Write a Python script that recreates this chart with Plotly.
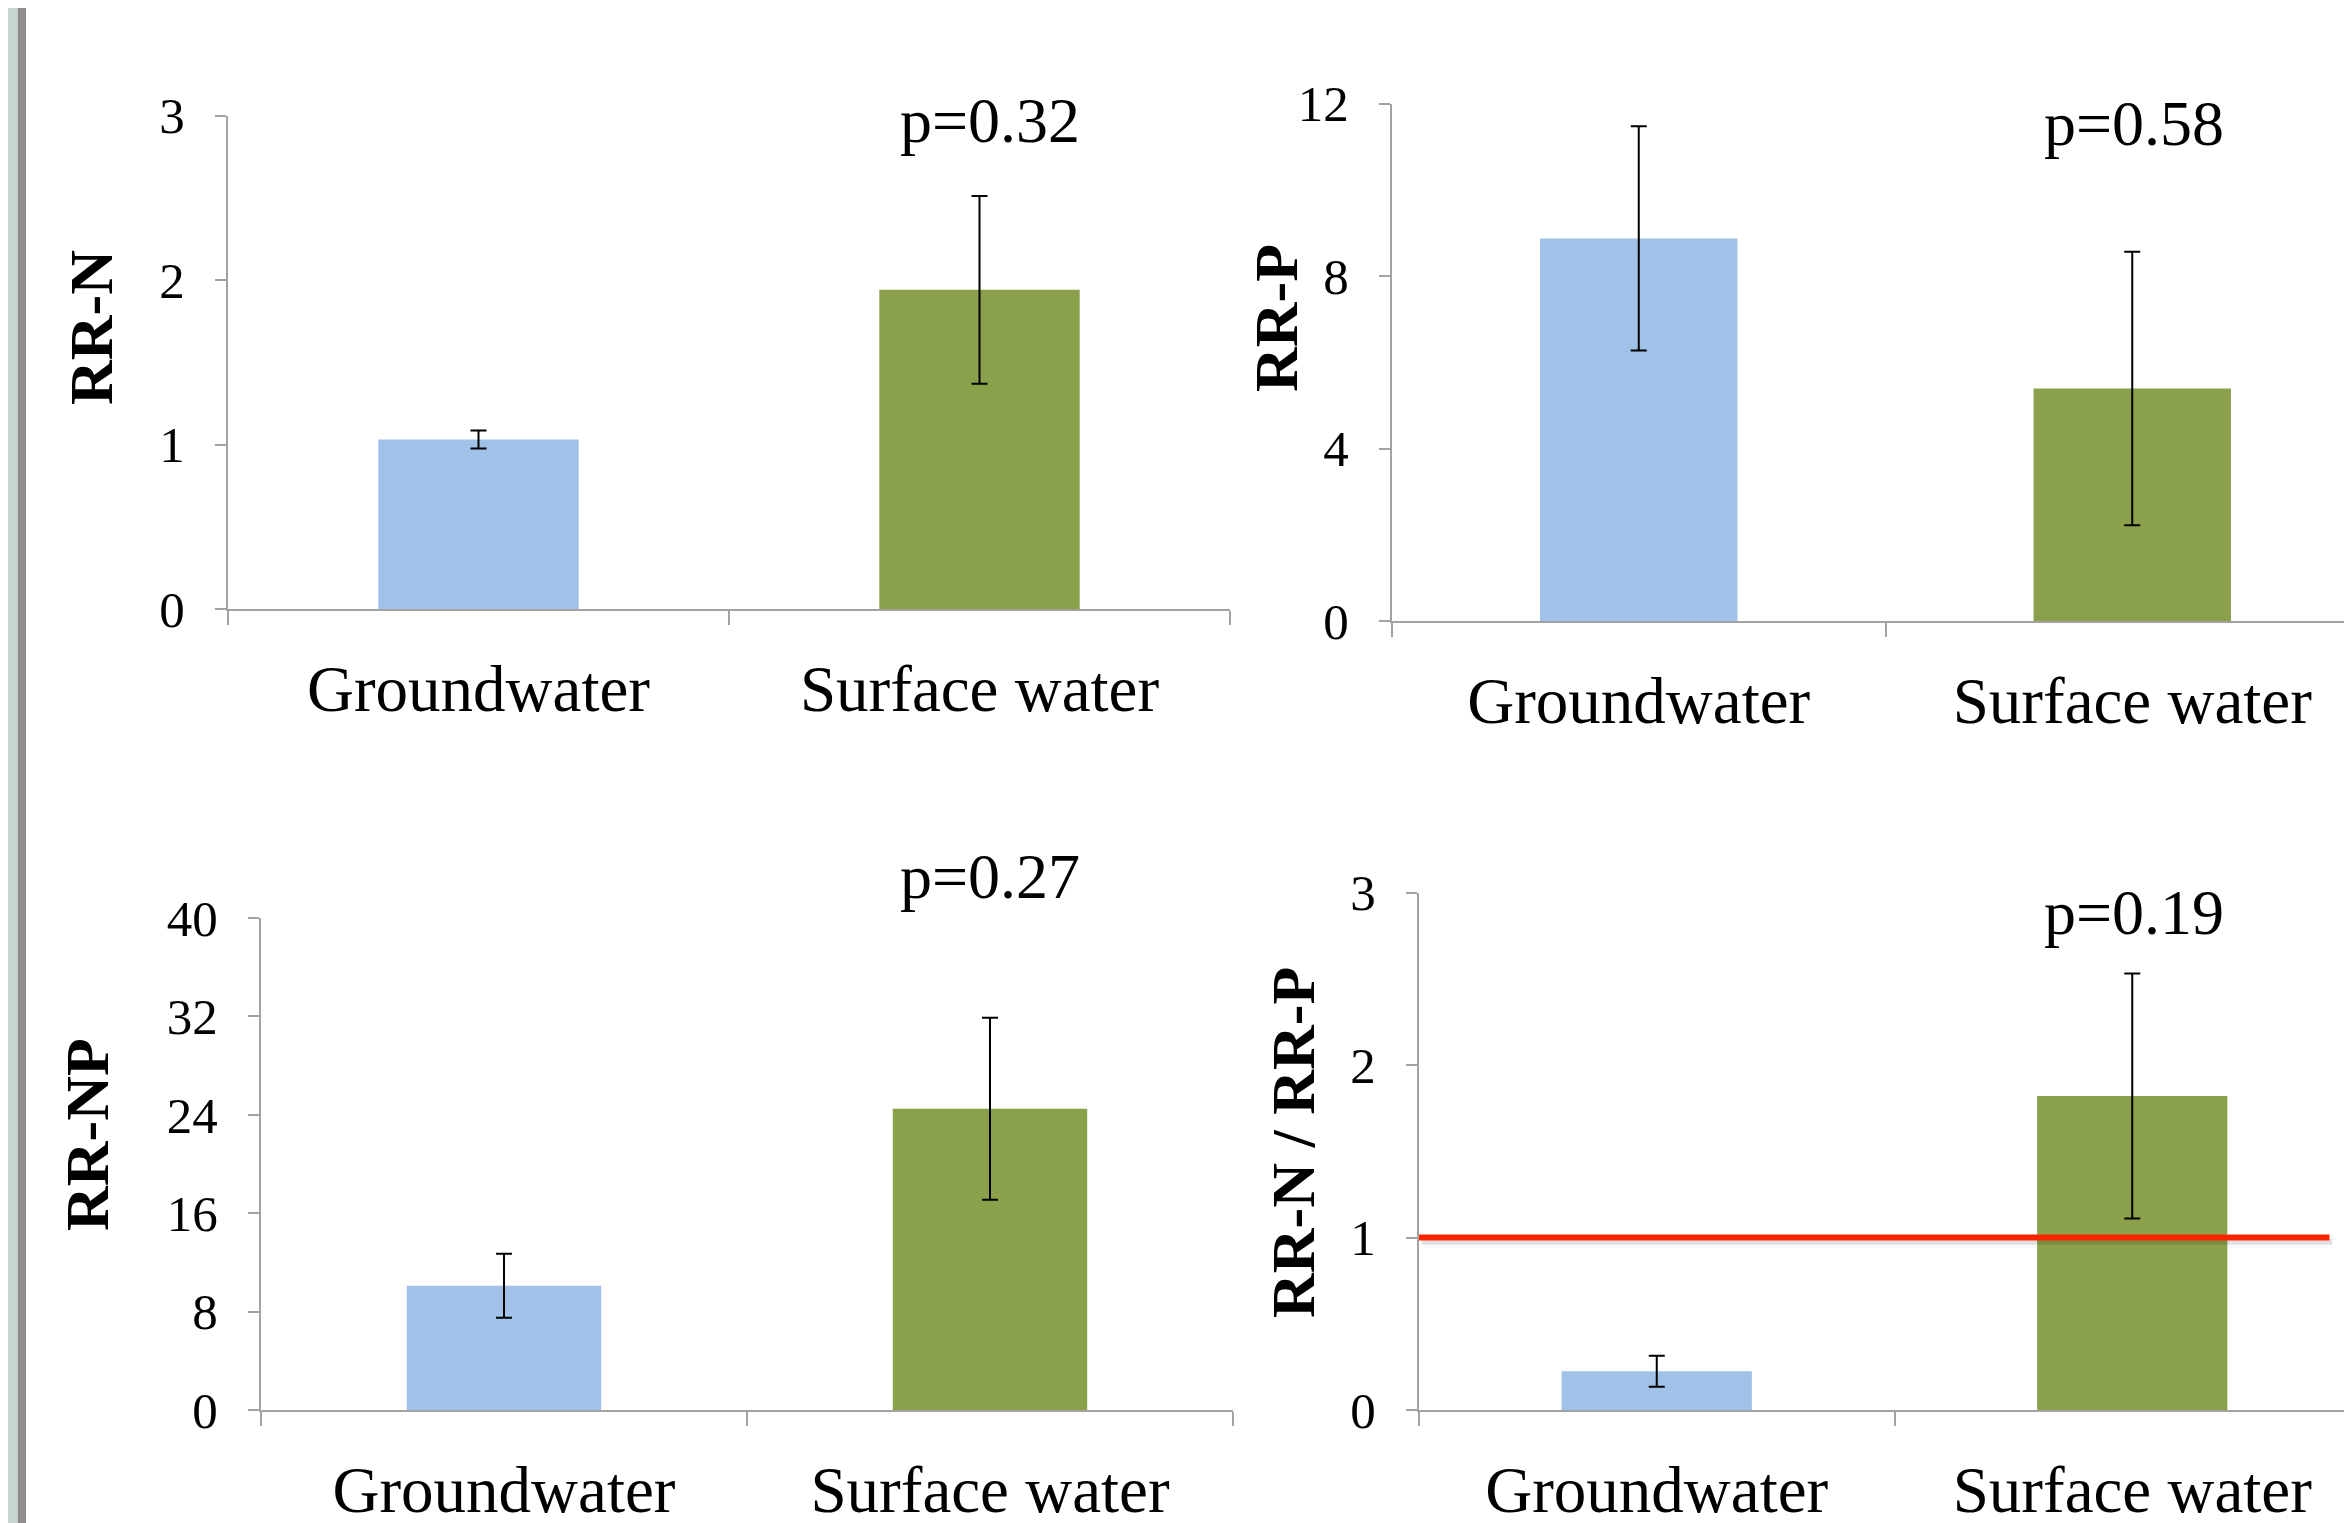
import plotly.graph_objects as go

# browser body margin compensation (page pixels -> figure pixels)
OFF = 8
PAGE_W, PAGE_H = 2352, 1523
W, H = PAGE_W - OFF, PAGE_H - OFF

# ---------------- data ----------------
CATEGORIES = ["Groundwater", "Surface water"]

RR_N = [1.03, 1.94]
RR_N_ERR = [0.055, 0.57]

RR_P = [8.87, 5.39]
RR_P_ERR = [2.6, 3.17]

RR_NP = [10.1, 24.5]
RR_NP_ERR = [2.6, 7.4]

RR_RATIO = [0.225, 1.82]
RR_RATIO_ERR = [0.09, 0.71]

P_VALUES = ["p=0.32", "p=0.58", "p=0.27", "p=0.19"]
Y_TITLES = ["RR-N", "RR-P", "RR-NP", "RR-N / RR-P"]
Y_TICKS = [[0, 1, 2, 3], [0, 4, 8, 12], [0, 8, 16, 24, 32, 40], [0, 1, 2, 3]]
Y_RANGES = [[0, 3], [0, 12], [0, 40], [0, 3]]
REF_LINE = 1  # reference line drawn in the RR-N / RR-P panel

# ---------------- styles ----------------
BAR_COLORS = ["#A0C1E8", "#8AA04A"]
AXIS_GRAY = "#A3A3A3"
SERIF = "Liberation Serif, Times New Roman, serif"

values = [RR_N, RR_P, RR_NP, RR_RATIO]
errors = [RR_N_ERR, RR_P_ERR, RR_NP_ERR, RR_RATIO_ERR]


def px(x):
    return (x - OFF) / W


def py(y):
    return 1 - (y - OFF) / H


# panel placement in page pixels: x-axis start, x-axis end (visible), category width, y of top, y of zero
panels = [
    dict(x0=228, x1=1230, cw=501, ytop=115.5, yzero=609),
    dict(x0=1392, x1=PAGE_W, cw=493.5, ytop=103.5, yzero=621),
    dict(x0=261, x1=1233, cw=486, ytop=918, yzero=1410),
    dict(x0=1419, x1=PAGE_W, cw=475.5, ytop=892.5, yzero=1410),
]

fig = go.Figure()
layout = dict(
    width=W, height=H,
    margin=dict(l=0, r=0, t=0, b=0, autoexpand=False),
    paper_bgcolor="white", plot_bgcolor="white",
    showlegend=False,
    font=dict(family=SERIF, color="black"),
)

for i, p in enumerate(panels):
    n = "" if i == 0 else str(i + 1)
    xa, ya = "x" + n, "y" + n
    fig.add_trace(go.Bar(
        x=CATEGORIES, y=values[i], width=0.4,
        marker=dict(color=BAR_COLORS, line=dict(width=0)),
        error_y=dict(type="data", array=errors[i], color="black", thickness=2, width=8),
        xaxis=xa, yaxis=ya, hoverinfo="skip",
    ))
    xr_end = -0.5 + (p["x1"] - p["x0"]) / p["cw"]
    layout["xaxis" + n] = dict(
        domain=[px(p["x0"]), min(1, px(p["x1"]))], anchor=ya,
        type="category", range=[-0.5, min(1.5, xr_end)],
        showline=True, linecolor=AXIS_GRAY, linewidth=2,
        ticks="outside", tickson="boundaries", ticklen=14, tickwidth=2, tickcolor=AXIS_GRAY,
        tickfont=dict(family=SERIF, size=65, color="black"),
        ticklabelstandoff=22, automargin=False,
        showgrid=False, zeroline=False, fixedrange=True,
    )
    layout["yaxis" + n] = dict(
        domain=[py(p["yzero"]), py(p["ytop"])], anchor=xa,
        range=Y_RANGES[i], tickvals=Y_TICKS[i],
        showline=True, linecolor=AXIS_GRAY, linewidth=2,
        ticks="outside", ticklen=11, tickwidth=2, tickcolor=AXIS_GRAY,
        tickfont=dict(family=SERIF, size=51, color="black"),
        ticklabelstandoff=20, automargin=False,
        showgrid=False, zeroline=False, fixedrange=True,
    )

# annotations: p-values and y-axis titles (page pixel positions)
p_pos = [(990, 121), (2134, 123), (990, 876), (2134, 912)]
t_pos = [(91, 328), (1276, 318), (87, 1135), (1293, 1143)]
ann = []
for i in range(4):
    ann.append(dict(text=P_VALUES[i], x=px(p_pos[i][0]), y=py(p_pos[i][1]),
                    xref="paper", yref="paper", showarrow=False,
                    xanchor="center", yanchor="middle",
                    font=dict(family=SERIF, size=64, color="black")))
    ann.append(dict(text="<b>" + Y_TITLES[i] + "</b>", x=px(t_pos[i][0]), y=py(t_pos[i][1]),
                    xref="paper", yref="paper", showarrow=False, textangle=-90,
                    xanchor="center", yanchor="middle",
                    font=dict(family=SERIF, size=62, color="black")))
layout["annotations"] = ann

# shapes: slide edge strip, red reference line with soft shadow
line_end = (2329.5 - 1419) / (PAGE_W - 1419)
layout["shapes"] = [
    dict(type="rect", xref="paper", yref="paper", x0=0, x1=px(17.7), y0=0, y1=1,
         fillcolor="#C9D5CF", line=dict(width=0), layer="below"),
    dict(type="rect", xref="paper", yref="paper", x0=px(17.7), x1=px(26), y0=0, y1=1,
         fillcolor="#8E8E8E", line=dict(width=0), layer="below"),
    dict(type="line", xref="x4 domain", yref="y4", x0=0.003, x1=line_end + 0.003,
         y0=REF_LINE - 0.025, y1=REF_LINE - 0.025,
         line=dict(color="rgba(0,0,0,0.12)", width=6)),
    dict(type="line", xref="x4 domain", yref="y4", x0=0, x1=line_end,
         y0=REF_LINE, y1=REF_LINE,
         line=dict(color="#FF2400", width=6)),
]

fig.update_layout(**layout)
fig.write_html("out.html")
